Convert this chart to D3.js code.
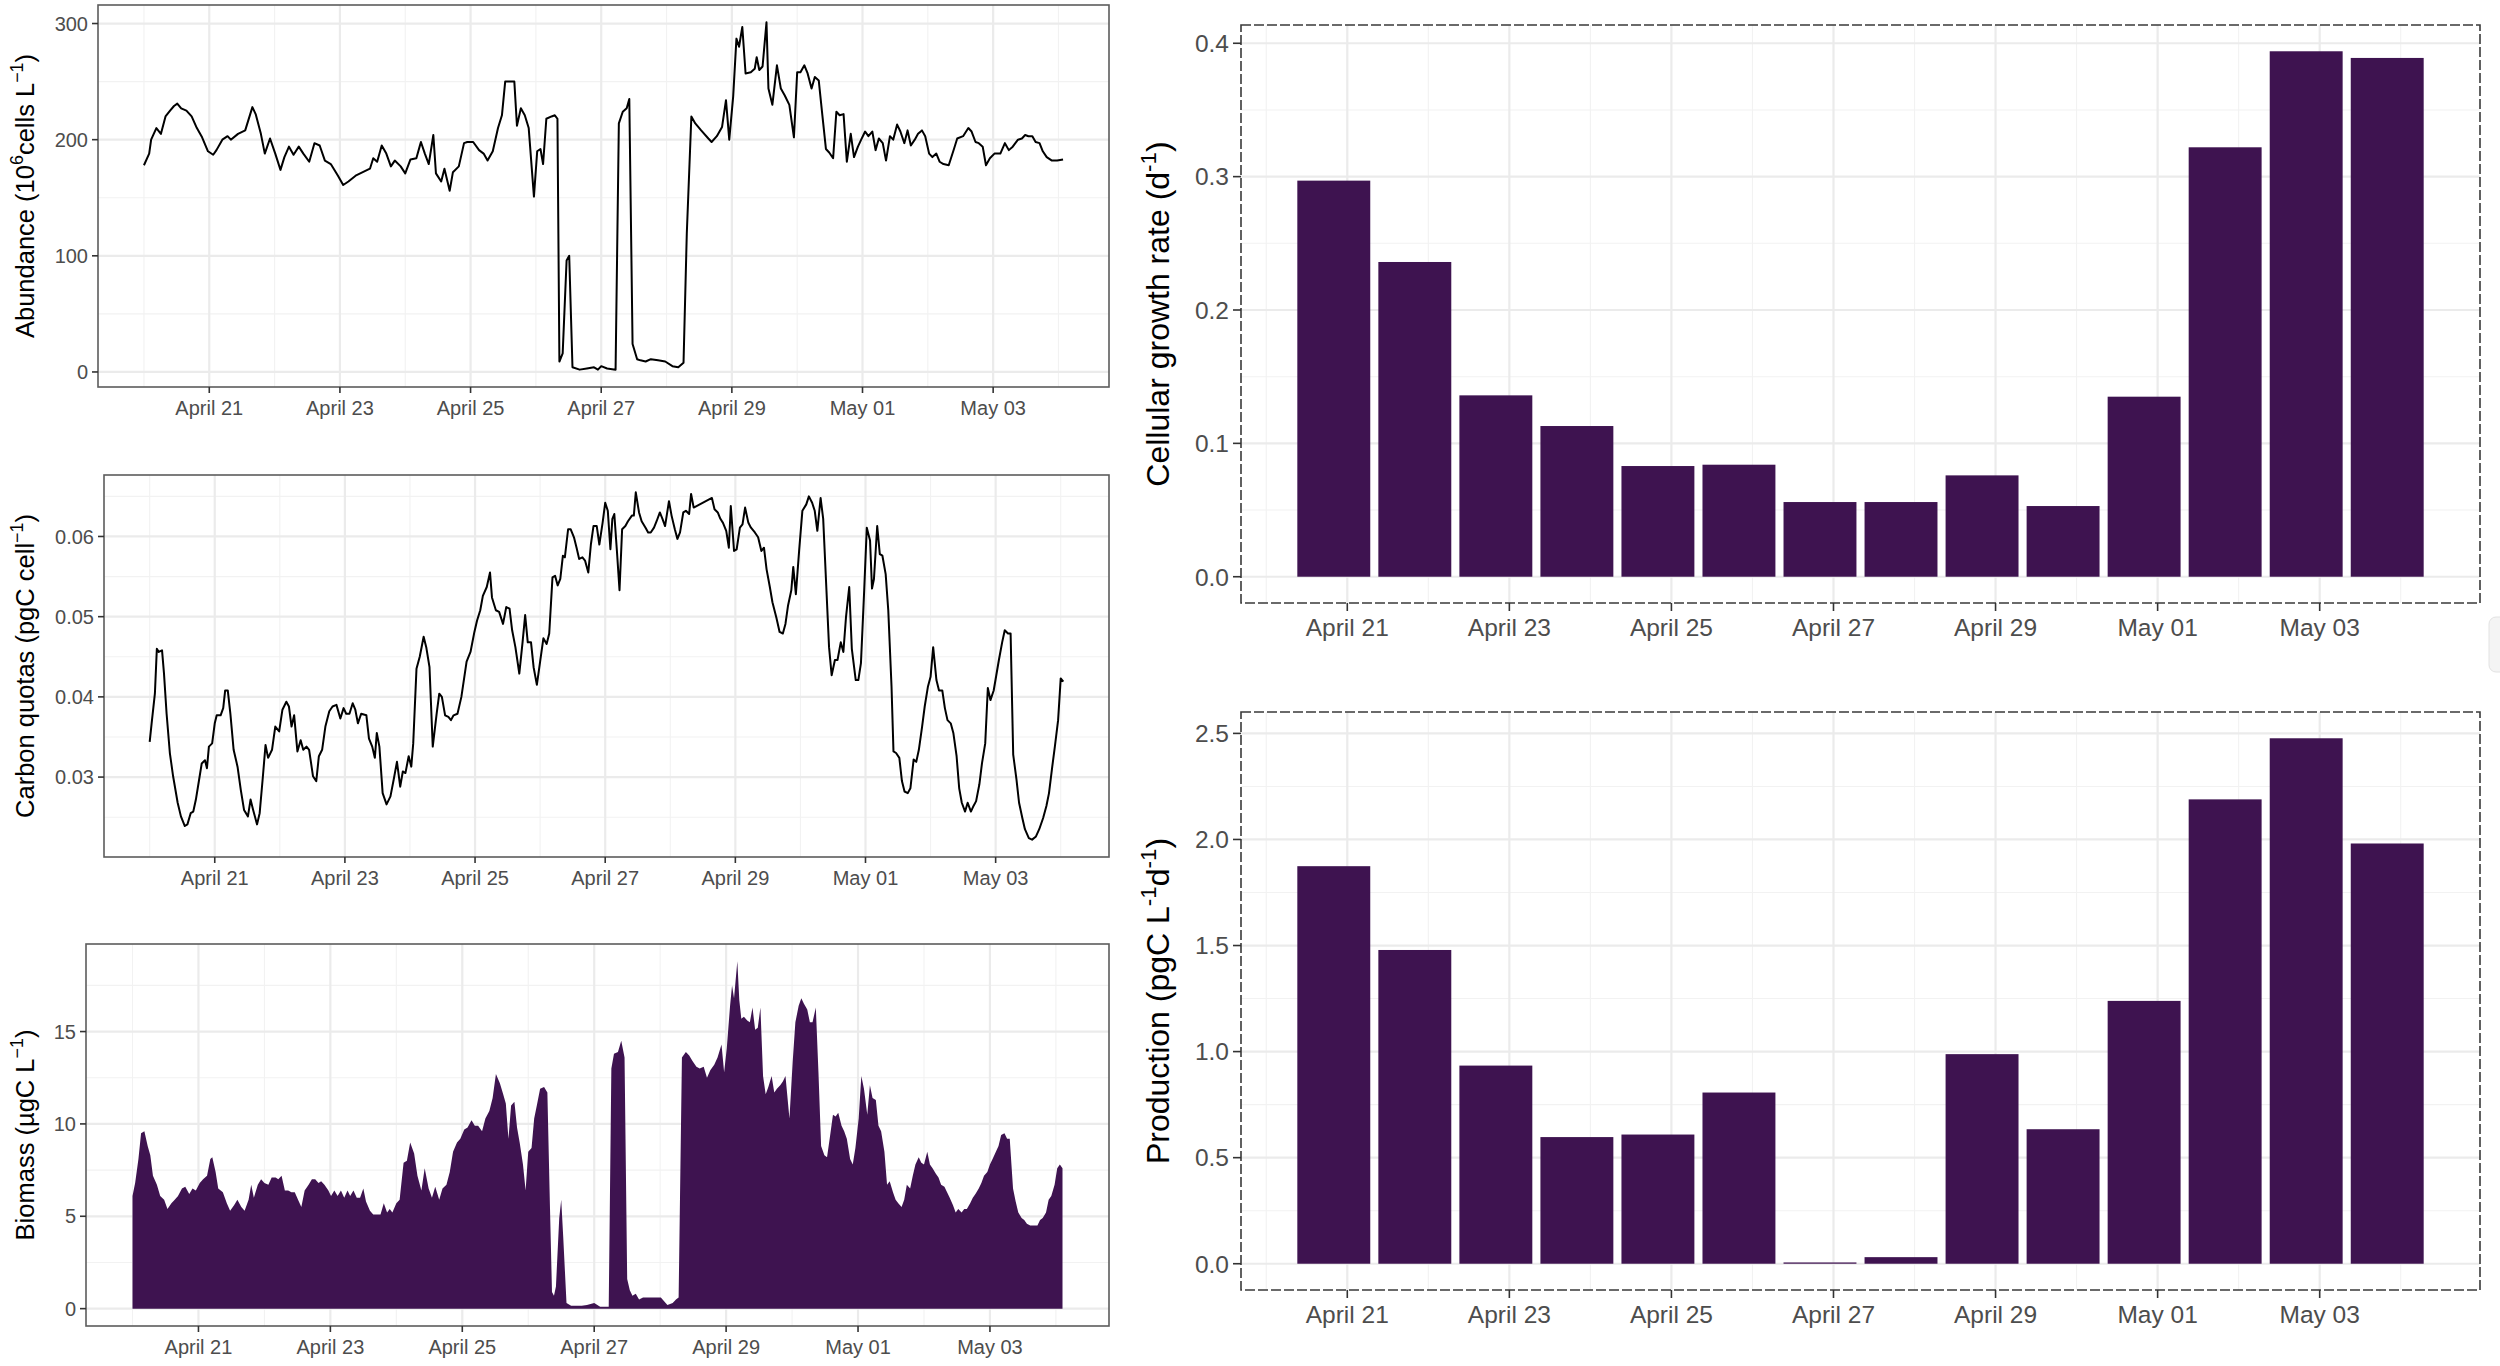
<!DOCTYPE html>
<html><head><meta charset="utf-8">
<script src="https://cdn.jsdelivr.net/npm/d3@7"></script>
<style>
body{margin:0;background:#fff}
svg{display:block}
text{font-family:"Liberation Sans",Arial,Helvetica,sans-serif}
</style>
</head><body>
<svg id="chart" width="2500" height="1366"></svg>
<script>
// ---------------- DATA ----------------
const seriesStart = "2021-04-20T00:00:00Z"; // time values below are days since this instant

// Abundance (10^6 cells L^-1): [day, value]
const abundance = [[0,178],[0.08,188],[0.11,200],[0.19,210],[0.26,205],[0.33,220],[0.40,225],[0.46,229],[0.51,231],[0.57,227],[0.65,225],[0.73,220],[0.81,210],[0.89,202],[0.98,190],[1.06,187],[1.11,191],[1.20,200],[1.28,203],[1.33,200],[1.44,205],[1.55,208],[1.66,228],[1.71,222],[1.79,205],[1.85,188],[1.93,201],[2.01,188],[2.09,174],[2.15,185],[2.22,194],[2.29,187],[2.37,194],[2.44,188],[2.53,181],[2.61,197],[2.69,195],[2.77,182],[2.86,179],[2.97,169],[3.05,161],[3.13,164],[3.24,169],[3.35,172],[3.46,175],[3.51,184],[3.57,181],[3.64,195],[3.71,188],[3.78,177],[3.84,182],[3.93,177],[4.00,171],[4.08,183],[4.17,184],[4.22,194],[4.24,198],[4.30,188],[4.36,179],[4.43,204],[4.47,171],[4.55,164],[4.60,175],[4.68,156],[4.73,172],[4.82,177],[4.90,197],[4.95,198],[5.04,198],[5.13,191],[5.20,188],[5.26,182],[5.34,190],[5.42,210],[5.48,221],[5.53,250],[5.61,250],[5.67,250],[5.71,212],[5.77,227],[5.83,221],[5.89,210],[5.97,151],[6.02,190],[6.07,192],[6.11,179],[6.16,218],[6.24,220],[6.29,221],[6.33,218],[6.36,9],[6.41,16],[6.47,96],[6.51,100],[6.56,4],[6.67,2],[6.78,3],[6.89,4],[6.95,2],[7.00,5],[7.09,3],[7.22,2],[7.27,214],[7.33,224],[7.39,227],[7.43,235],[7.48,24],[7.55,11],[7.60,10],[7.68,9],[7.76,11],[7.87,10],[7.98,9],[8.09,5],[8.18,4],[8.26,8],[8.31,119],[8.38,220],[8.44,214],[8.53,208],[8.64,201],[8.69,198],[8.77,203],[8.85,211],[8.91,234],[8.96,200],[9.02,237],[9.07,287],[9.11,280],[9.16,297],[9.21,257],[9.29,258],[9.35,261],[9.38,271],[9.42,260],[9.47,263],[9.53,301],[9.56,244],[9.62,230],[9.69,264],[9.75,244],[9.81,238],[9.88,230],[9.95,202],[10.00,258],[10.05,258],[10.11,264],[10.16,257],[10.22,244],[10.27,254],[10.33,251],[10.38,224],[10.44,192],[10.49,189],[10.55,184],[10.60,224],[10.65,221],[10.71,222],[10.76,181],[10.82,205],[10.87,185],[10.93,194],[10.98,200],[11.04,207],[11.09,203],[11.15,207],[11.20,191],[11.25,201],[11.31,197],[11.36,182],[11.42,203],[11.47,200],[11.53,213],[11.58,207],[11.64,197],[11.69,208],[11.74,195],[11.80,200],[11.85,205],[11.91,208],[11.96,203],[12.02,188],[12.07,185],[12.13,188],[12.18,181],[12.24,179],[12.32,178],[12.40,192],[12.45,201],[12.54,203],[12.62,210],[12.67,207],[12.73,198],[12.78,197],[12.84,194],[12.89,178],[12.95,184],[13.02,188],[13.11,188],[13.18,197],[13.24,191],[13.30,194],[13.38,200],[13.44,201],[13.49,204],[13.54,203],[13.60,203],[13.65,198],[13.71,197],[13.76,190],[13.82,185],[13.90,182],[13.98,182],[14.07,183]];

// Carbon quotas (pgC cell^-1): [day, value]
const carbonQuota = [[0,0.0344],[0.03,0.0367],[0.08,0.0404],[0.11,0.0460],[0.14,0.0456],[0.19,0.0458],[0.22,0.0429],[0.26,0.0379],[0.31,0.0330],[0.36,0.0301],[0.43,0.0268],[0.48,0.0251],[0.54,0.0239],[0.58,0.0241],[0.63,0.0255],[0.67,0.0257],[0.71,0.0272],[0.76,0.0297],[0.80,0.0317],[0.85,0.0321],[0.88,0.0311],[0.91,0.0338],[0.96,0.0342],[1.00,0.0367],[1.03,0.0377],[1.09,0.0377],[1.13,0.0386],[1.16,0.0408],[1.20,0.0408],[1.24,0.0379],[1.29,0.0334],[1.35,0.0313],[1.40,0.0284],[1.45,0.0259],[1.51,0.0251],[1.55,0.0272],[1.59,0.0259],[1.65,0.0241],[1.69,0.0255],[1.74,0.0301],[1.78,0.0340],[1.82,0.0324],[1.88,0.0334],[1.93,0.0363],[1.99,0.0357],[2.04,0.0384],[2.10,0.0394],[2.14,0.0388],[2.18,0.0363],[2.22,0.0377],[2.27,0.0332],[2.32,0.0346],[2.36,0.0334],[2.41,0.0338],[2.45,0.0334],[2.51,0.0301],[2.56,0.0295],[2.60,0.0326],[2.65,0.0334],[2.70,0.0363],[2.76,0.0382],[2.81,0.0388],[2.87,0.0390],[2.93,0.0373],[2.98,0.0386],[3.02,0.0379],[3.07,0.0379],[3.12,0.0392],[3.16,0.0384],[3.20,0.0367],[3.25,0.0379],[3.33,0.0377],[3.37,0.0348],[3.42,0.0338],[3.46,0.0324],[3.49,0.0355],[3.53,0.0338],[3.58,0.0280],[3.64,0.0266],[3.70,0.0276],[3.75,0.0297],[3.80,0.0319],[3.85,0.0288],[3.89,0.0307],[3.93,0.0305],[3.98,0.0326],[4.02,0.0313],[4.05,0.0342],[4.10,0.0435],[4.15,0.0450],[4.21,0.0475],[4.25,0.0462],[4.30,0.0437],[4.35,0.0338],[4.41,0.0379],[4.45,0.0404],[4.49,0.0400],[4.54,0.0377],[4.59,0.0375],[4.63,0.0371],[4.67,0.0377],[4.73,0.0379],[4.79,0.0400],[4.87,0.0444],[4.93,0.0456],[4.99,0.0481],[5.03,0.0495],[5.08,0.0508],[5.12,0.0526],[5.18,0.0537],[5.23,0.0555],[5.26,0.0524],[5.32,0.0508],[5.37,0.0506],[5.43,0.0491],[5.48,0.0512],[5.53,0.0510],[5.57,0.0483],[5.62,0.0462],[5.68,0.0429],[5.73,0.0468],[5.77,0.0502],[5.81,0.0468],[5.86,0.0468],[5.90,0.0437],[5.95,0.0415],[6.00,0.0444],[6.05,0.0473],[6.10,0.0466],[6.14,0.0479],[6.19,0.0549],[6.23,0.0551],[6.27,0.0539],[6.31,0.0547],[6.35,0.0576],[6.38,0.0574],[6.43,0.0609],[6.47,0.0609],[6.52,0.0599],[6.56,0.0586],[6.60,0.0572],[6.65,0.0574],[6.69,0.0570],[6.74,0.0555],[6.78,0.0590],[6.82,0.0613],[6.87,0.0613],[6.91,0.0590],[6.96,0.0617],[7.00,0.0642],[7.04,0.0632],[7.08,0.0584],[7.11,0.0622],[7.14,0.0628],[7.18,0.0582],[7.22,0.0533],[7.26,0.0609],[7.31,0.0613],[7.35,0.0619],[7.41,0.0626],[7.44,0.0626],[7.47,0.0655],[7.52,0.0630],[7.56,0.0619],[7.62,0.0611],[7.66,0.0605],[7.70,0.0605],[7.75,0.0611],[7.79,0.0619],[7.84,0.0630],[7.88,0.0622],[7.92,0.0613],[7.98,0.0644],[8.02,0.0626],[8.07,0.0609],[8.11,0.0597],[8.15,0.0605],[8.20,0.0630],[8.24,0.0632],[8.29,0.0628],[8.32,0.0653],[8.36,0.0636],[8.64,0.0648],[8.68,0.0634],[8.73,0.0630],[8.77,0.0622],[8.81,0.0617],[8.86,0.0607],[8.90,0.0586],[8.93,0.0638],[8.98,0.0582],[9.02,0.0584],[9.07,0.0611],[9.11,0.0615],[9.15,0.0636],[9.20,0.0617],[9.24,0.0611],[9.30,0.0605],[9.35,0.0599],[9.40,0.0582],[9.44,0.0586],[9.48,0.0559],[9.53,0.0537],[9.57,0.0518],[9.63,0.0499],[9.68,0.0481],[9.73,0.0479],[9.77,0.0491],[9.81,0.0514],[9.86,0.0533],[9.89,0.0562],[9.93,0.0528],[9.98,0.0582],[10.03,0.0632],[10.09,0.0640],[10.13,0.0650],[10.18,0.0642],[10.22,0.0632],[10.26,0.0607],[10.31,0.0648],[10.35,0.0622],[10.40,0.0533],[10.44,0.0462],[10.48,0.0427],[10.53,0.0446],[10.57,0.0446],[10.62,0.0468],[10.66,0.0456],[10.70,0.0499],[10.75,0.0537],[10.79,0.0460],[10.85,0.0421],[10.89,0.0421],[10.93,0.0442],[10.98,0.0533],[11.02,0.0611],[11.07,0.0595],[11.10,0.0535],[11.13,0.0547],[11.18,0.0613],[11.22,0.0578],[11.26,0.0576],[11.31,0.0553],[11.35,0.0508],[11.40,0.0413],[11.43,0.0332],[11.47,0.0330],[11.52,0.0324],[11.56,0.0295],[11.60,0.0282],[11.65,0.0280],[11.69,0.0286],[11.74,0.0322],[11.78,0.0319],[11.82,0.0334],[11.87,0.0363],[11.91,0.0388],[11.96,0.0413],[12.00,0.0425],[12.04,0.0462],[12.09,0.0421],[12.13,0.0408],[12.18,0.0408],[12.22,0.0386],[12.26,0.0371],[12.31,0.0367],[12.35,0.0355],[12.40,0.0326],[12.44,0.0286],[12.48,0.0268],[12.53,0.0257],[12.57,0.0268],[12.62,0.0257],[12.66,0.0264],[12.70,0.0270],[12.75,0.0291],[12.79,0.0317],[12.84,0.0342],[12.88,0.0411],[12.92,0.0396],[12.97,0.0408],[13.01,0.0427],[13.05,0.0446],[13.10,0.0468],[13.14,0.0483],[13.19,0.0479],[13.23,0.0479],[13.27,0.0328],[13.32,0.0297],[13.36,0.0268],[13.41,0.0249],[13.45,0.0235],[13.51,0.0224],[13.56,0.0222],[13.62,0.0226],[13.67,0.0235],[13.73,0.0249],[13.78,0.0264],[13.82,0.0280],[13.87,0.0313],[13.91,0.0338],[13.96,0.0371],[14.00,0.0423],[14.04,0.0419]];

// Biomass (µgC L^-1): [day, value]
const biomass = [[0,6.1],[0.04,6.8],[0.09,8.1],[0.13,9.5],[0.18,9.6],[0.23,8.8],[0.27,8.3],[0.31,7.2],[0.37,6.7],[0.42,6.1],[0.48,5.9],[0.53,5.4],[0.59,5.7],[0.64,5.9],[0.69,6.1],[0.75,6.5],[0.80,6.6],[0.86,6.2],[0.91,6.5],[0.96,6.4],[1.02,6.8],[1.07,7.0],[1.13,7.2],[1.18,8.1],[1.21,8.2],[1.26,7.4],[1.30,6.5],[1.37,6.3],[1.43,5.7],[1.48,5.3],[1.54,5.6],[1.59,5.9],[1.65,5.5],[1.70,5.3],[1.76,5.9],[1.80,6.7],[1.84,6.0],[1.90,6.7],[1.95,7.0],[2.00,6.8],[2.06,6.7],[2.11,7.1],[2.17,7.1],[2.21,7.0],[2.26,7.2],[2.31,6.4],[2.36,6.4],[2.41,6.3],[2.46,6.3],[2.51,5.9],[2.56,5.5],[2.61,6.4],[2.67,6.7],[2.72,7.0],[2.77,7.0],[2.82,6.8],[2.86,6.9],[2.91,6.7],[2.97,6.4],[3.01,6.1],[3.06,6.4],[3.11,6.1],[3.16,6.4],[3.21,6.0],[3.26,6.4],[3.30,6.1],[3.35,6.4],[3.40,6.0],[3.45,6.0],[3.50,6.5],[3.54,5.8],[3.60,5.3],[3.65,5.1],[3.71,5.1],[3.76,5.1],[3.81,5.7],[3.86,5.2],[3.90,5.4],[3.94,5.2],[4.00,5.7],[4.05,5.9],[4.11,7.9],[4.16,8.0],[4.21,9.0],[4.27,8.4],[4.32,7.2],[4.38,6.4],[4.43,7.6],[4.49,6.5],[4.54,6.0],[4.59,6.6],[4.65,5.9],[4.70,6.5],[4.76,6.7],[4.81,7.4],[4.86,8.5],[4.92,9.0],[4.97,9.2],[5.03,9.7],[5.08,9.8],[5.14,10.2],[5.19,9.9],[5.24,9.9],[5.30,9.6],[5.35,10.3],[5.41,10.7],[5.46,11.4],[5.51,12.7],[5.57,12.2],[5.62,11.6],[5.66,11.1],[5.70,9.2],[5.74,11.0],[5.79,11.2],[5.83,9.8],[5.87,9.0],[5.92,7.8],[5.96,6.4],[6.00,8.5],[6.05,8.7],[6.09,10.3],[6.13,11.0],[6.18,11.9],[6.24,12.0],[6.29,11.7],[6.33,5.4],[6.36,0.9],[6.39,0.7],[6.42,1.2],[6.47,4.9],[6.50,5.9],[6.53,3.9],[6.58,0.3],[6.65,0.15],[6.81,0.15],[6.89,0.2],[7.00,0.3],[7.09,0.1],[7.22,0.1],[7.26,13.0],[7.30,13.8],[7.36,13.9],[7.41,14.5],[7.46,13.6],[7.50,1.6],[7.54,1.0],[7.58,0.7],[7.63,0.8],[7.68,0.5],[7.74,0.6],[7.79,0.6],[7.90,0.6],[8.01,0.6],[8.06,0.4],[8.11,0.2],[8.19,0.3],[8.24,0.5],[8.28,0.6],[8.33,13.6],[8.39,13.9],[8.44,13.7],[8.49,13.4],[8.55,13.1],[8.60,13.0],[8.66,13.1],[8.71,12.5],[8.76,12.9],[8.82,13.2],[8.87,13.6],[8.93,14.3],[8.97,12.8],[9.01,14.1],[9.06,16.4],[9.09,17.5],[9.12,16.8],[9.17,18.8],[9.20,16.7],[9.23,15.7],[9.27,15.8],[9.32,15.6],[9.36,15.5],[9.40,16.3],[9.44,15.1],[9.48,15.2],[9.52,16.3],[9.56,12.6],[9.60,11.6],[9.64,12.0],[9.69,12.6],[9.73,11.7],[9.77,11.9],[9.82,12.1],[9.86,12.3],[9.90,12.6],[9.96,10.3],[10.01,13.4],[10.05,15.5],[10.10,16.4],[10.14,16.8],[10.18,16.5],[10.23,16.2],[10.27,15.5],[10.31,15.5],[10.36,16.3],[10.40,12.8],[10.44,8.8],[10.49,8.3],[10.53,8.2],[10.57,9.2],[10.62,10.5],[10.66,10.4],[10.70,10.6],[10.75,9.9],[10.79,9.6],[10.83,9.2],[10.88,8.1],[10.92,7.8],[10.96,8.7],[11.01,10.3],[11.05,12.6],[11.09,11.9],[11.14,10.5],[11.18,12.1],[11.22,11.4],[11.27,11.3],[11.31,9.9],[11.35,9.6],[11.40,8.5],[11.44,6.7],[11.48,6.9],[11.53,6.3],[11.57,5.9],[11.61,5.7],[11.66,5.5],[11.70,5.9],[11.74,6.7],[11.79,6.5],[11.83,7.2],[11.87,7.8],[11.92,8.2],[11.96,7.9],[12.00,7.8],[12.05,8.5],[12.09,7.8],[12.13,7.6],[12.18,7.3],[12.22,7.1],[12.26,6.7],[12.31,6.6],[12.35,6.3],[12.39,6.0],[12.44,5.6],[12.48,5.2],[12.52,5.4],[12.57,5.2],[12.61,5.4],[12.65,5.4],[12.70,5.7],[12.74,6.0],[12.78,6.2],[12.83,6.5],[12.87,6.8],[12.91,7.2],[12.96,7.4],[13.00,7.8],[13.04,8.1],[13.09,8.5],[13.13,8.8],[13.17,9.4],[13.22,9.5],[13.26,9.2],[13.30,9.2],[13.35,6.5],[13.39,5.8],[13.43,5.2],[13.48,4.9],[13.52,4.8],[13.56,4.6],[13.61,4.5],[13.67,4.5],[13.72,4.5],[13.76,4.8],[13.80,4.9],[13.85,5.2],[13.89,5.9],[13.93,6.1],[13.98,6.7],[14.02,7.6],[14.06,7.8],[14.10,7.6]];

// Daily bars
const barDates = ["2021-04-21","2021-04-22","2021-04-23","2021-04-24","2021-04-25","2021-04-26","2021-04-27","2021-04-28","2021-04-29","2021-04-30","2021-05-01","2021-05-02","2021-05-03","2021-05-04"];
const growthRate = [0.297,0.236,0.136,0.113,0.083,0.084,0.056,0.056,0.076,0.053,0.135,0.322,0.394,0.389];
const production = [1.874,1.479,0.934,0.597,0.609,0.807,0.006,0.031,0.988,0.634,1.239,2.189,2.477,1.981];

// Axis tick values
const abundanceTicks = [0,100,200,300];
const carbonTicks = [0.03,0.04,0.05,0.06];
const biomassTicks = [0,5,10,15];
const growthTicks = [0.0,0.1,0.2,0.3,0.4];
const productionTicks = [0.0,0.5,1.0,1.5,2.0,2.5];

// ---------------- DRAWING ----------------
const svg = d3.select("#chart");
const start = new Date(seriesStart).getTime();
const DAY = 864e5;
const toDate = d => new Date(start + d * DAY);
const fmtDate = d3.utcFormat("%B %d");
const FILL = "#3e1350";

function expand(lo, hi, f = 0.05) { const r = hi - lo; return [lo - r * f, hi + r * f]; }

function minorsFrom(ticks, domain) {
  const step = ticks[1] - ticks[0];
  const out = [];
  for (let v = ticks[0] - step / 2; v <= domain[1] + 1e-12; v += step) {
    if (v >= domain[0] - 1e-12) out.push(v);
  }
  return out;
}

function drawTitle(g, cx, cy, parts, size) {
  const t = g.append("text")
    .attr("transform", `translate(${cx},${cy}) rotate(-90)`)
    .attr("text-anchor", "middle")
    .attr("fill", "#000")
    .attr("font-size", size);
  let shifted = false;
  parts.forEach(p => {
    const s = t.append("tspan").text(p.t);
    if (p.sup) {
      s.attr("font-size", size * 0.7).attr("dy", -size * 0.42);
      shifted = true;
    } else if (shifted) {
      s.attr("dy", size * 0.42);
      shifted = false;
    }
  });
  return t;
}

function panel(opts) {
  const { box, x, y, yTicks, yFmt, xFont, yFont, tickLen, dashed, xLabelGap } = opts;
  const g = svg.append("g");
  const yDom = y.domain();
  const xDom = x.domain();
  const majorX = d3.utcDay.every(2).range(xDom[0], xDom[1]);
  const allDays = d3.utcDay.range(xDom[0], xDom[1]);
  const minorX = allDays.filter(d => !majorX.some(m => +m === +d));
  const minorY = minorsFrom(yTicks, yDom);
  const grid = g.append("g");
  grid.selectAll(".mx").data(minorX).join("line")
    .attr("x1", d => x(d)).attr("x2", d => x(d))
    .attr("y1", box.top).attr("y2", box.bottom)
    .attr("stroke", "#f2f2f2").attr("stroke-width", 1.1);
  grid.selectAll(".my").data(minorY).join("line")
    .attr("x1", box.left).attr("x2", box.right)
    .attr("y1", d => y(d)).attr("y2", d => y(d))
    .attr("stroke", "#f2f2f2").attr("stroke-width", 1.1);
  grid.selectAll(".Mx").data(majorX).join("line")
    .attr("x1", d => x(d)).attr("x2", d => x(d))
    .attr("y1", box.top).attr("y2", box.bottom)
    .attr("stroke", "#ebebeb").attr("stroke-width", 2.2);
  grid.selectAll(".My").data(yTicks).join("line")
    .attr("x1", box.left).attr("x2", box.right)
    .attr("y1", d => y(d)).attr("y2", d => y(d))
    .attr("stroke", "#ebebeb").attr("stroke-width", 2.2);

  const data = g.append("g");
  opts.draw(data);

  g.append("rect")
    .attr("x", box.left).attr("y", box.top)
    .attr("width", box.right - box.left).attr("height", box.bottom - box.top)
    .attr("fill", "none").attr("stroke", dashed ? "#3a3a3a" : "#5c5c5c")
    .attr("stroke-width", 1.6)
    .attr("stroke-dasharray", dashed ? "10 3" : null);

  g.selectAll(".tx").data(majorX).join("line")
    .attr("x1", d => x(d)).attr("x2", d => x(d))
    .attr("y1", box.bottom).attr("y2", box.bottom + tickLen)
    .attr("stroke", "#333").attr("stroke-width", 1.6);
  g.selectAll(".ty").data(yTicks).join("line")
    .attr("x1", box.left - tickLen).attr("x2", box.left)
    .attr("y1", d => y(d)).attr("y2", d => y(d))
    .attr("stroke", "#333").attr("stroke-width", 1.6);

  g.selectAll(".lx").data(majorX).join("text")
    .attr("x", d => x(d)).attr("y", box.bottom + xLabelGap)
    .attr("text-anchor", "middle").attr("fill", "#4d4d4d")
    .attr("font-size", xFont).text(d => fmtDate(d));
  g.selectAll(".ly").data(yTicks).join("text")
    .attr("x", box.left - tickLen - 4).attr("y", d => y(d))
    .attr("dy", "0.36em")
    .attr("text-anchor", "end").attr("fill", "#4d4d4d")
    .attr("font-size", yFont).text(d => yFmt(d));

  drawTitle(g, opts.titleX, (box.top + box.bottom) / 2, opts.title, opts.titleSize);
}

function timeSeriesPanel(box, series, yTicks, yFmt, title, area) {
  const xs = series.map(d => d[0]), ys = series.map(d => d[1]);
  const xd = expand(d3.min(xs), d3.max(xs));
  const yd = expand(area ? 0 : d3.min(ys), d3.max(ys));
  const x = d3.scaleUtc().domain(xd.map(toDate)).range([box.left, box.right]);
  const y = d3.scaleLinear().domain(yd).range([box.bottom, box.top]);
  panel({
    box, x, y, yTicks, yFmt, xFont: 20, yFont: 20, tickLen: 6, dashed: false, xLabelGap: 28,
    title, titleSize: 25.5, titleX: 34,
    draw: g => {
      if (area) {
        g.append("path").datum(series)
          .attr("d", d3.area().x(d => x(toDate(d[0]))).y0(y(0)).y1(d => y(d[1])))
          .attr("fill", FILL);
      } else {
        g.append("path").datum(series)
          .attr("d", d3.line().x(d => x(toDate(d[0]))).y(d => y(d[1])))
          .attr("fill", "none").attr("stroke", "#000").attr("stroke-width", 2)
          .attr("stroke-linejoin", "round");
      }
    }
  });
}

function barPanel(box, values, yTicks, yFmt, title) {
  // bars are centred 4 h before local midnight of each date (UTC-stamped daily values)
  const centers = barDates.map(s => new Date(new Date(s + "T00:00:00Z").getTime() - 4 * 3600e3));
  const half = 0.45 * DAY;
  const lo = +centers[0] - half, hi = +centers[centers.length - 1] + half;
  const xd = expand(lo, hi);
  const x = d3.scaleUtc().domain(xd.map(v => new Date(v))).range([box.left, box.right]);
  const yd = expand(0, d3.max(values));
  const y = d3.scaleLinear().domain(yd).range([box.bottom, box.top]);
  panel({
    box, x, y, yTicks, yFmt, xFont: 24.5, yFont: 24.5, tickLen: 8, dashed: true, xLabelGap: 33,
    title, titleSize: 32, titleX: 1169,
    draw: g => {
      g.selectAll("rect").data(values).join("rect")
        .attr("x", (d, i) => x(new Date(+centers[i] - half)))
        .attr("width", (d, i) => x(new Date(+centers[i] + half)) - x(new Date(+centers[i] - half)))
        .attr("y", d => y(d)).attr("height", d => y(0) - y(d))
        .attr("fill", FILL);
    }
  });
}

timeSeriesPanel({ left: 98, right: 1109, top: 5, bottom: 387 }, abundance, abundanceTicks, d3.format("d"),
  [{ t: "Abundance (10" }, { t: "6", sup: true }, { t: "cells L" }, { t: "\u22121", sup: true }, { t: ")" }], false);
timeSeriesPanel({ left: 104, right: 1109, top: 475, bottom: 857 }, carbonQuota, carbonTicks, d3.format(".2f"),
  [{ t: "Carbon quotas (pgC cell" }, { t: "\u22121", sup: true }, { t: ")" }], false);
timeSeriesPanel({ left: 86, right: 1109, top: 944, bottom: 1326 }, biomass, biomassTicks, d3.format("d"),
  [{ t: "Biomass (\u00b5gC L" }, { t: "\u22121", sup: true }, { t: ")" }], true);

barPanel({ left: 1241, right: 2480, top: 25, bottom: 603 }, growthRate, growthTicks, d3.format(".1f"),
  [{ t: "Cellular growth rate (d" }, { t: "-1", sup: true }, { t: ")" }]);
barPanel({ left: 1241, right: 2480, top: 712, bottom: 1290 }, production, productionTicks, d3.format(".1f"),
  [{ t: "Production (pgC L" }, { t: "-1", sup: true }, { t: "d" }, { t: "-1", sup: true }, { t: ")" }]);

// small grey tab at the right edge of the figure
svg.append("rect").attr("x", 2489).attr("y", 617).attr("width", 20).attr("height", 55)
  .attr("rx", 7).attr("fill", "#f4f4f4").attr("stroke", "#e2e2e2").attr("stroke-width", 1);
</script>
</body></html>
